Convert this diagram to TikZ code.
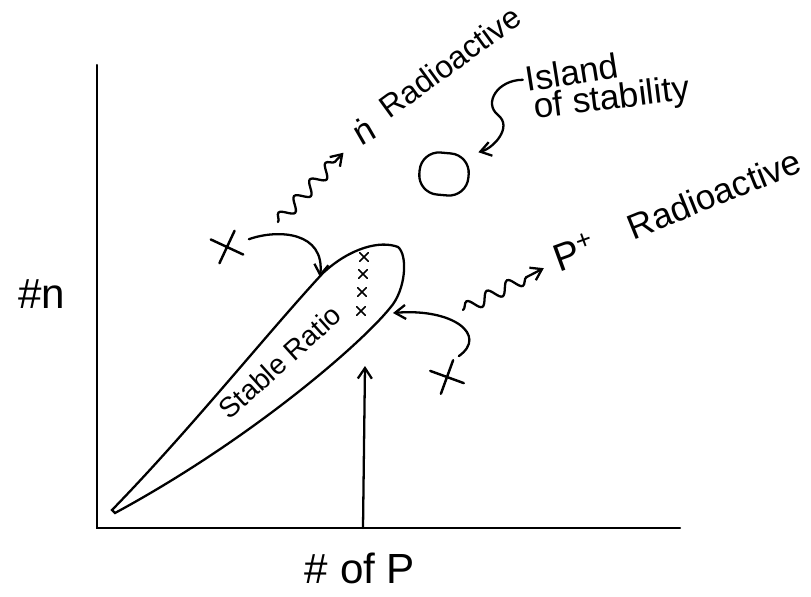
\documentclass[tikz,border=0pt]{standalone}
\usepackage{fontspec}
\setmainfont{Liberation Sans}
\usetikzlibrary{arrows.meta,positioning,calc,decorations.pathmorphing,shapes.misc}

\begin{document}
\begin{tikzpicture}[x=0.02cm,y=-0.02cm,line width=1.3pt,line cap=round,
    >={Straight Barb[length=6pt,width=8pt]},
    hand/.style={font=\fontsize{#1}{#1}\selectfont,inner sep=1pt},
    hand/.default=18,
    xmark/.style={cross out,draw,line width=1.4pt,minimum size=13pt,inner sep=0pt},
    tinyx/.style={cross out,draw,line width=0.9pt,minimum size=4pt,inner sep=0pt},
    wiggle/.style={decorate,decoration={snake,amplitude=3.5pt,segment length=13pt,post length=6pt}}]
    \useasboundingbox (0,0) rectangle (811,596);
    % axes
    \coordinate (ytop) at (97,65);
    \coordinate (origin) at (97,528);
    \coordinate (xend) at (680,528);
    \draw[line width=1.2pt] (ytop) -- (origin) -- (xend);
    \node[hand=24] (nlab) at (42,294) {\#n};
    \node[hand=24] (plab) at (360,568) {\# of P};
    % stable band
    \draw (112,510) .. controls (190,430) and (270,330) .. (323,273)
      .. controls (350,248) and (380,240) .. (398,247)
      .. controls (408,255) and (406,290) .. (390,308)
      .. controls (360,345) and (250,440) .. (115,513) -- cycle;
    \node[hand=16,rotate=42] (stable) at (280,362) {Stable Ratio};
    \foreach \px/\py [count=\i] in {364/257,363/274,362/292,361/311}
      \node[tinyx] (sx\i) at (\px,\py) {};
    \coordinate (topedge) at (320,277);
    \coordinate (rightedge) at (393,313);
    \coordinate (pfoot) at (363,528);
    \coordinate (ptip) at (365,366);
    \draw[->] (pfoot) -- (ptip);
    % neutron side
    \node[xmark,rotate=20] (xn) at (227,247) {};
    \draw[->,shorten <=6pt] (xn.east) .. controls +(40,-14) and +(5,-45) .. (topedge);
    \coordinate (nwave) at (278,222);
    \node[hand=20,rotate=30] (nsym) at (364,131) {\.{n}};
    \draw[->,wiggle] (nwave) -- ($(nsym.center)!17pt!(nwave)$);
    \node[hand,rotate=36] (nrad) at (450,62) {Radioactive};
    % island
    \node[draw,rounded corners=11pt,minimum width=28pt,minimum height=24pt,rotate=-5] (island) at (444,174) {};
    \node[hand=20,rotate=9] (isl1) at (572,72) {Island};
    \node[hand=20,rotate=7] (isl2) at (612,100) {of stability};
    \draw[->,shorten >=4pt] (isl1.west) .. controls +(-25,0) and +(-15,-12) .. (498,115)
      .. controls +(15,12) and +(22,-6) .. (island.north east);
    % proton side
    \node[xmark,rotate=25] (xp) at (447,377) {};
    \draw[->,shorten <=4pt] (xp.north east) .. controls +(35,-25) and +(60,-5) .. (rightedge);
    \coordinate (pwave) at (463,310);
    \node[hand=22,rotate=20] (psym) at (575,252) {P\textsuperscript{+}};
    \draw[->,wiggle] (pwave) -- ($(psym.center)!20pt!(pwave)$);
    \node[hand=20,rotate=22] (prad) at (714,194) {Radioactive};
\end{tikzpicture}
\end{document}
